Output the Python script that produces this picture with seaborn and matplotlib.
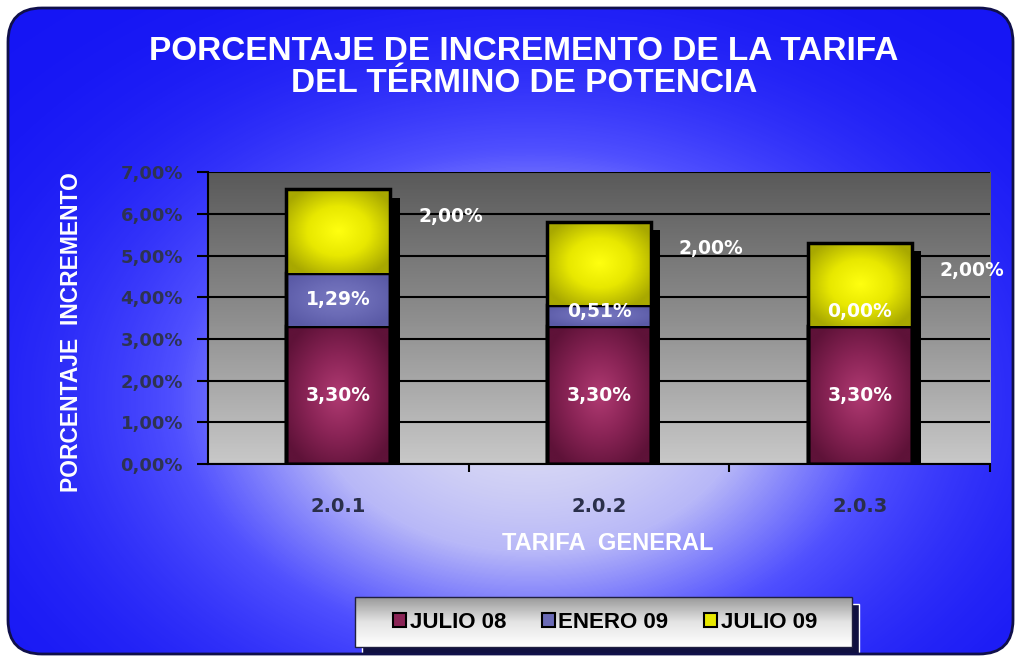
import numpy as np
import pandas as pd
import seaborn as sns
import matplotlib.pyplot as plt
from matplotlib.colors import LinearSegmentedColormap
from matplotlib.patches import FancyBboxPatch, Rectangle
from matplotlib.ticker import FuncFormatter

sns.set_theme(style='white')
plt.rcParams['font.family'] = ['Liberation Sans', 'DejaVu Sans']

# datos
tarifas = ['2.0.1', '2.0.2', '2.0.3']
julio08 = [3.30, 3.30, 3.30]
enero09 = [1.29, 0.51, 0.00]
julio09 = [2.00, 2.00, 2.00]
series = ['JULIO 08', 'ENERO 09', 'JULIO 09']
colores = ['#8a2456', '#6b6bb6', '#e8e800']
centros = ['#b03a72', '#7878c0', '#ffff10']
bordes = ['#5e1238', '#5a5aa6', '#a8a800']

df = pd.DataFrame({'tarifa': tarifas, 'JULIO 08': julio08,
                   'ENERO 09': enero09, 'JULIO 09': julio09})
df['c1'] = df['JULIO 08']
df['c2'] = df['c1'] + df['ENERO 09']
df['c3'] = df['c2'] + df['JULIO 09']

fig = plt.figure(figsize=(10.21, 6.62), dpi=100)
fig.patch.set_facecolor('white')

# fondo azul con degradado radial
bg = fig.add_axes([0, 0, 1, 1], zorder=0)
bg.set_axis_off()
bg.set_xlim(0, 1021)
bg.set_ylim(662, 0)
marco = FancyBboxPatch((8, 8), 1005, 646, boxstyle='round,pad=0,rounding_size=34',
                       facecolor='none', edgecolor='#10104a', linewidth=2, zorder=3)
bg.add_patch(marco)
xx, yy = np.meshgrid(np.linspace(0, 1021, 300), np.linspace(0, 662, 200))
t = np.exp(-((xx - 530) / 340) ** 2 - ((yy - 400) / 240) ** 2)
cmap_bg = LinearSegmentedColormap.from_list('fondo', ['#1414f4', '#5050ff', '#b8b8f8', '#dcdcf4'])
im = bg.imshow(t, extent=(0, 1021, 662, 0), cmap=cmap_bg, vmin=0, vmax=1,
               aspect='auto', interpolation='bilinear', zorder=1)
im.set_clip_path(marco)

# caja de la leyenda
bg.add_patch(Rectangle((362, 604), 497, 50, facecolor='#101040', zorder=2))
caja = Rectangle((355, 597), 497, 50, facecolor='none', edgecolor='#202040', linewidth=1, zorder=4)
bg.add_patch(caja)
gl = np.linspace(0, 1, 50)[:, None] * np.ones((1, 10))
cmap_leg = LinearSegmentedColormap.from_list('leg', ['#9a9a9a', '#e4e4e4', '#ffffff'])
iml = bg.imshow(gl, extent=(355, 852, 647, 597), cmap=cmap_leg, aspect='auto', zorder=3)
iml.set_clip_path(caja)

# area del grafico
ax = fig.add_axes([0.2037, 0.299, 0.766, 0.441], zorder=1)
gy = np.linspace(0, 1, 100)[:, None] * np.ones((1, 10))
cmap_pa = LinearSegmentedColormap.from_list('pa', ['#5a5a5a', '#8e8e8e', '#c8c8c8'])
ax.imshow(gy, extent=(0, 1, 0, 1), transform=ax.transAxes, cmap=cmap_pa,
          aspect='auto', zorder=0)

ancho = 0.4
for i, col in enumerate(['c3', 'c2', 'c1']):
    sns.barplot(data=df, x='tarifa', y=col, color=colores[2 - i], width=ancho,
                errorbar=None, ax=ax, saturation=1)

ax.set_xlim(-0.5, 2.5)
ax.set_ylim(0, 7)

n = len(tarifas)
for k, p in enumerate(ax.patches):
    s = 2 - k // n
    p.set_facecolor('none')
    p.set_edgecolor('black')
    p.set_linewidth(2.5)
    p.set_zorder(3 + s)

# sombra negra de las barras
tops = ax.patches[:n]
for p in tops:
    x0 = p.get_x()
    w = p.get_width()
    h = p.get_height()
    ax.add_patch(Rectangle((x0 + 0.035, 0), w, h - 0.2, facecolor='black',
                           edgecolor='none', zorder=2))

# relleno con degradado radial en cada tramo
bases = [np.zeros(n), df['c1'].values, df['c2'].values]
alturas = [df['c1'].values, df['c2'].values, df['c3'].values]
u, v = np.meshgrid(np.linspace(-1, 1, 60), np.linspace(-1, 1, 60))
r = np.clip(np.sqrt(u ** 2 + v ** 2) / 1.2, 0, 1)
for s in range(3):
    cm = LinearSegmentedColormap.from_list('s%d' % s, [centros[s], colores[s], bordes[s]])
    for j in range(n):
        lo, hi = bases[s][j], alturas[s][j]
        if hi - lo <= 0:
            continue
        ax.imshow(r, extent=(j - ancho / 2, j + ancho / 2, lo, hi), cmap=cm,
                  vmin=0, vmax=1, aspect='auto', interpolation='bilinear',
                  zorder=3 + s - 0.05)
ax.set_xlim(-0.5, 2.5)
ax.set_ylim(0, 7)

# etiquetas de datos
def pct(v):
    return f'{v:.2f}%'.replace('.', ',')

lab = dict(color='white', fontsize=13.5, fontweight='bold', family=['DejaVu Sans'],
           ha='center', va='center', zorder=10)
for j in range(n):
    ax.text(j, julio08[j] / 2, pct(julio08[j]), **lab)
    ax.text(j, df['c1'][j] + max(enero09[j], 0.7) / 2, pct(enero09[j]), **lab)
    ax.text(j + 0.43, df['c3'][j] - 0.65, pct(julio09[j]), **lab)

# ejes
ax.yaxis.grid(True, color='black', linewidth=1.5)
ax.set_axisbelow('line')
ax.set_yticks(np.arange(0, 8, 1))
ax.yaxis.set_major_formatter(FuncFormatter(lambda v, _: pct(v)))
ax.tick_params(axis='y', left=True, direction='out', length=8, width=1.5, color='black',
               labelsize=13, labelcolor='#2e3352', pad=10)
ax.set_xticks(range(n))
ax.set_xticks([0.5, 1.5, 2.5], minor=True)
ax.tick_params(axis='x', which='major', bottom=False, labelsize=14, labelcolor='#2a2f4a', pad=18)
ax.tick_params(axis='x', which='minor', bottom=True, direction='out', length=6, width=1.5,
               color='black')
for lbl in ax.get_xticklabels() + ax.get_yticklabels():
    lbl.set_fontweight('bold')
    lbl.set_family(['DejaVu Sans'])
for side in ['top', 'right']:
    ax.spines[side].set_visible(False)
for side in ['left', 'bottom']:
    ax.spines[side].set_visible(True)
    ax.spines[side].set_color('black')
    ax.spines[side].set_linewidth(1.5)
ax.set_xlabel('')
ax.set_ylabel('')

# textos
fig.text(524 / 1021, 1 - 51 / 662, 'PORCENTAJE DE INCREMENTO DE LA TARIFA',
         ha='center', va='center', color='white', fontsize=24, fontweight='bold')
fig.text(524 / 1021, 1 - 83 / 662, 'DEL TÉRMINO DE POTENCIA',
         ha='center', va='center', color='white', fontsize=24, fontweight='bold')
fig.text(72 / 1021, 1 - 332 / 662, 'PORCENTAJE  INCREMENTO', rotation=90,
         ha='center', va='center', color='white', fontsize=16.5, fontweight='bold')
fig.text(608 / 1021, 1 - 543 / 662, 'TARIFA  GENERAL', ha='center', va='center',
         color='white', fontsize=17, fontweight='bold')

# leyenda
handles = [Rectangle((0, 0), 1, 1, facecolor=c, edgecolor='black', linewidth=1.5)
           for c in colores]
leg = fig.legend(handles, series, loc='center', bbox_to_anchor=(605 / 1021, 1 - 622 / 662),
                 ncol=3, frameon=False, handlelength=0.6, handleheight=0.6,
                 handletextpad=0.15, columnspacing=1.6, labelcolor='black',
                 prop={'weight': 'bold', 'size': 16})
leg.set_zorder(5)

fig.savefig('out.png', dpi=100)
